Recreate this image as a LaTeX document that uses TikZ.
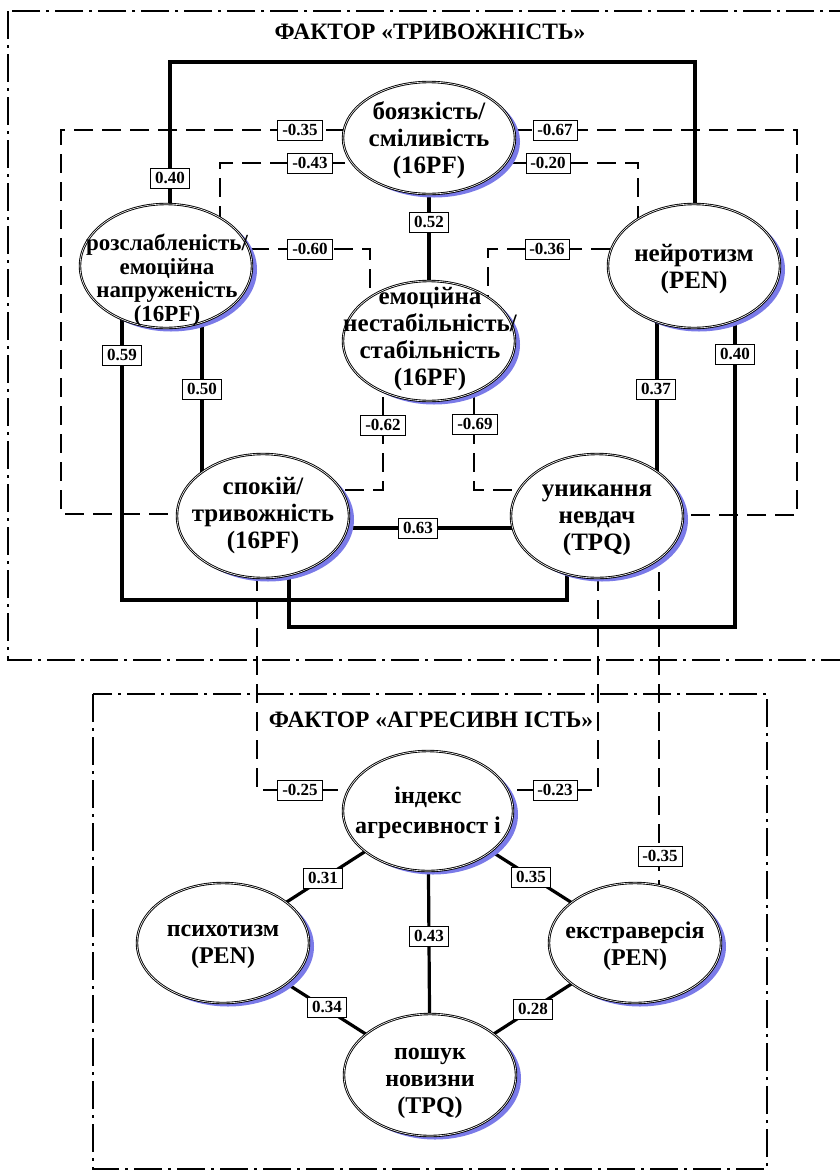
\documentclass[tikz,border=0pt]{standalone}
\usepackage{fontspec}
\setmainfont{Liberation Serif}
\usetikzlibrary{shapes.geometric}
\pgfdeclarelayer{bg}
\pgfsetlayers{bg,main}
\definecolor{shblue}{RGB}{122,122,232}
\tikzset{
  ell/.style={ellipse, draw=black, line width=0.9pt, double=white, double distance=0.6pt,
    fill=white, inner sep=0pt, minimum width=#1,
    preaction={fill=shblue, transform canvas={xshift=5pt,yshift=-3.5pt}}},
  ell/.default=172pt,
  txt/.style={align=center, font=\bfseries\fontsize{25}{27}\selectfont},
  txtb/.style={align=center, font=\bfseries\fontsize{24}{27}\selectfont},
  lbl/.style={draw=black, line width=0.6pt, fill=white, inner xsep=4.5pt, inner ysep=0pt,
    minimum height=20pt, font=\bfseries\fontsize{17}{17}\selectfont},
  ttl/.style={font=\bfseries\fontsize{23.5}{25}\selectfont},
  sol/.style={line width=3.2pt},
  dsh/.style={line width=2.8pt, dash pattern=on 19pt off 9pt},
  fbox/.style={line width=2pt, dash pattern=on 28pt off 6pt on 3pt off 6pt},
}
\begin{document}
\begin{tikzpicture}[x=1pt,y=-1pt]
\useasboundingbox (0,0) rectangle (840,1173);
% ellipses
\node[ell, minimum height=112pt] (b1) at (429,138) {};
\node[ell, minimum height=124pt] (b2) at (166,266) {};
\node[ell, minimum height=124pt] (b3) at (694,266) {};
\node[ell, minimum height=120pt] (b4) at (429,341) {};
\node[ell, minimum height=124pt] (b5) at (263,516) {};
\node[ell, minimum height=124pt] (b6) at (597,516) {};
\node[ell=170pt, minimum height=120pt] (a1) at (428,811) {};
\node[ell, minimum height=120pt] (a2) at (223,943) {};
\node[ell, minimum height=120pt] (a3) at (635,943) {};
\node[ell, minimum height=122pt] (a4) at (430,1075) {};
% texts
\node[txt] (b1t) at (429,140) {боязкість/\\сміливість\\(16PF)};
\node[txt, font=\bfseries\fontsize{23}{23.5}\selectfont] (b2t) at (167,280) {розслабленість/\\емоційна\\напруженість\\(16PF)};
\node[txt] (b3t) at (694,269) {нейротизм\\(PEN)};
\node[txt] (b4t) at (430,339) {емоційна\\нестабільність/\\стабільність\\(16PF)};
\node[txt] (b5t) at (263,515) {спокій/\\тривожність\\(16PF)};
\node[txt] (b6t) at (597,520) {уникання\\невдач\\(TPQ)};
\node[txtb, font=\bfseries\fontsize{24}{30}\selectfont] (a1t) at (428,813) {індекс\\агресивност і};
\node[txtb] (a2t) at (223,947) {психотизм\\(PEN)};
\node[txtb] (a3t) at (635,946) {екстраверсія\\(PEN)};
\node[txtb] (a4t) at (430,1083) {пошук\\новизни\\(TPQ)};
% titles
\node[ttl] (t1) at (430,32) {ФАКТОР «ТРИВОЖНІСТЬ»};
\node[ttl] (t2) at (431,720) {ФАКТОР «АГРЕСИВН ІСТЬ»};
% corner coordinates
\coordinate (p1) at (170,62);
\coordinate (p2) at (695,62);
\coordinate (q1) at (61,130);
\coordinate (q2) at (61,514);
\coordinate (q3) at (797,130);
\coordinate (q4) at (797,515);
\coordinate (r1) at (220,163);
\coordinate (r2) at (638,163);
\coordinate (s1) at (370,249);
\coordinate (s2) at (488,249);
\coordinate (t1c) at (122,600);
\coordinate (t2c) at (567,600);
\coordinate (u1) at (202,400);
\coordinate (v1) at (383,490);
\coordinate (v2) at (474,490);
\coordinate (w1) at (657,400);
\coordinate (x1) at (735,627);
\coordinate (x2) at (289,627);
\coordinate (y1) at (400,528);
\coordinate (z1) at (257,790);
\coordinate (z2) at (598,790);
\coordinate (z3) at (659,700);
\begin{pgfonlayer}{bg}
\draw[fbox] (8,11) rectangle (880,660);
\draw[fbox] (93,694) rectangle (767,1169);
\draw[sol] (b2.center -| p1) -- (p1) -- (p2) -- (b3.center -| p2);
\draw[dsh] (b1.center |- q1) -- (q1) -- (q2) -- (b5.center |- q2);
\draw[dsh] (b1.center |- q3) -- (q3) -- (q4) -- (b6.center |- q4);
\draw[dsh] (b1.center |- r1) -- (r1) -- (b2.center -| r1);
\draw[dsh] (b1.center |- r2) -- (r2) -- (b3.center -| r2);
\draw[sol] (b1) -- (b4);
\draw[dsh] (b2.center |- s1) -- (s1) -- (b4.center -| s1);
\draw[dsh] (b3.center |- s2) -- (s2) -- (b4.center -| s2);
\draw[sol] (b2.center -| t1c) -- (t1c) -- (t2c) -- (b6.center -| t2c);
\draw[sol] (b2.center -| u1) -- (b5.center -| u1);
\draw[dsh] (b4.center -| v1) -- (v1) -- (b5.center |- v1);
\draw[dsh] (b4.center -| v2) -- (v2) -- (b6.center |- v2);
\draw[sol] (b3.center -| w1) -- (b6.center -| w1);
\draw[sol] (b3.center -| x1) -- (x1) -- (x2) -- (b5.center -| x2);
\draw[sol] (b5.center |- y1) -- (b6.center |- y1);
\draw[dsh] (b5.center -| z1) -- (z1) -- (a1.center |- z1);
\draw[dsh] (b6.center -| z2) -- (z2) -- (a1.center |- z2);
\draw[dsh] (b6.center -| z3) -- (a3.center -| z3);
\draw[sol] (a1) -- (a2);
\draw[sol] (a1) -- (a3);
\draw[sol] (a1) -- (a4);
\draw[sol] (a2) -- (a4);
\draw[sol] (a3) -- (a4);
\end{pgfonlayer}
% labels
\node[lbl] (l1) at (170,178) {0.40};
\node[lbl] (l2) at (300,130) {-0.35};
\node[lbl] (l3) at (555,130) {-0.67};
\node[lbl] (l4) at (310,163) {-0.43};
\node[lbl] (l5) at (548,163) {-0.20};
\node[lbl] (l6) at (429,222) {0.52};
\node[lbl] (l7) at (310,249) {-0.60};
\node[lbl] (l8) at (547,249) {-0.36};
\node[lbl] (l9) at (122,355) {0.59};
\node[lbl] (l10) at (202,389) {0.50};
\node[lbl] (l11) at (383,425) {-0.62};
\node[lbl] (l12) at (475,424) {-0.69};
\node[lbl] (l13) at (656,389) {0.37};
\node[lbl] (l14) at (735,354) {0.40};
\node[lbl] (l15) at (418,528) {0.63};
\node[lbl] (l16) at (300,790) {-0.25};
\node[lbl] (l17) at (555,790) {-0.23};
\node[lbl] (l18) at (660,856) {-0.35};
\node[lbl] (l19) at (323,878) {0.31};
\node[lbl] (l20) at (531,877) {0.35};
\node[lbl] (l21) at (429,936) {0.43};
\node[lbl] (l22) at (327,1007) {0.34};
\node[lbl] (l23) at (533,1009) {0.28};
\end{tikzpicture}
\end{document}
